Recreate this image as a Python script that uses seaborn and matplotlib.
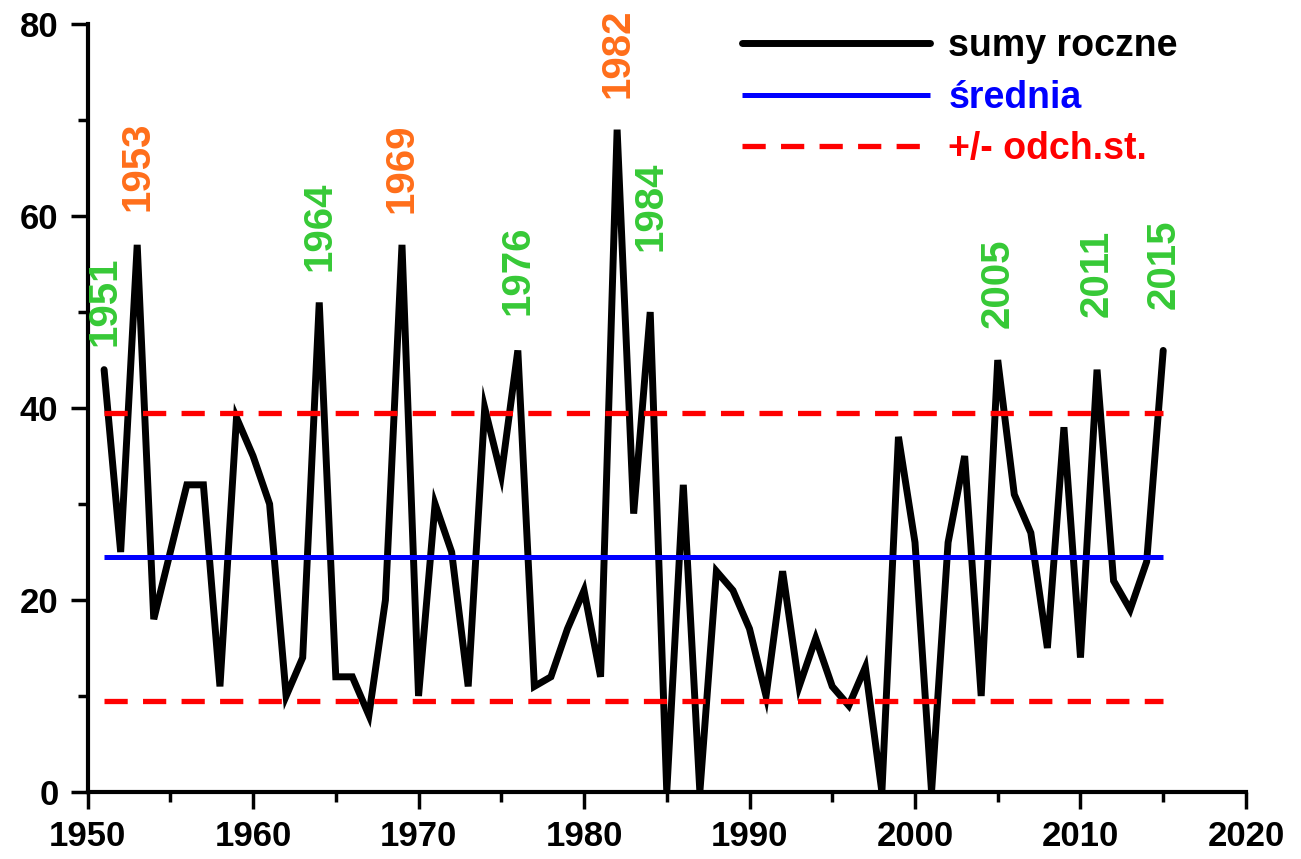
import numpy as np
import pandas as pd
import matplotlib
matplotlib.use("Agg")
import matplotlib.pyplot as plt
import seaborn as sns

# ---- data ----
years = list(range(1951, 2016))
sumy_roczne = [44, 25, 57, 18, 25, 32, 32, 11, 39, 35,
               30, 10, 14, 51, 12, 12, 8, 20, 57, 10,
               30, 25, 11, 40, 33, 46, 11, 12, 17, 21,
               12, 69, 29, 50, 0, 32, 0, 23, 21, 17,
               10, 23, 11, 16, 11, 9, 13, 0, 37, 26,
               0, 26, 35, 10, 45, 31, 27, 15, 38, 14,
               44, 22, 19, 24, 46]
srednia = 24.5
odch_st = 15.0

label_years = [1951, 1953, 1964, 1969, 1976, 1982, 1984, 2005, 2011, 2015]
label_kinds = ["g", "o", "g", "o", "g", "o", "g", "g", "g", "g"]

legend_labels = ["sumy roczne", "średnia", "+/- odch.st."]
x_ticks = [1950, 1960, 1970, 1980, 1990, 2000, 2010, 2020]
y_ticks = [0, 20, 40, 60, 80]

# ---- style ----
sns.set_style("ticks")
plt.rcParams['font.family'] = ['Liberation Sans', 'DejaVu Sans']
plt.rcParams['font.weight'] = 'bold'
plt.rcParams['text.color'] = 'black'
plt.rcParams['axes.edgecolor'] = 'black'
plt.rcParams['xtick.color'] = 'black'
plt.rcParams['ytick.color'] = 'black'
plt.rcParams['xtick.labelcolor'] = 'black'
plt.rcParams['ytick.labelcolor'] = 'black'

ORANGE = "#FF6E1A"
GREEN = "#36C936"

df = pd.DataFrame({"rok": years, "suma": sumy_roczne})

fig = plt.figure(figsize=(13.01, 8.59), dpi=100)
ax = fig.add_axes([0.0673, 0.078, 0.8904, 0.894])

sns.lineplot(data=df, x="rok", y="suma", ax=ax, color="black", lw=5.0,
             label=legend_labels[0], solid_joinstyle="miter")
ax.hlines(srednia, years[0], years[-1], color="#0000FF", lw=3.6,
          label=legend_labels[1])
ax.hlines([srednia + odch_st, srednia - odch_st], years[0], years[-1],
          color="#FF0000", lw=3.8, linestyles=(0, (4.4, 2.9)),
          label=legend_labels[2])

# year annotations
vals = dict(zip(years, sumy_roczne))
extra = {1951: 0.0, 1984: 3.9, 2011: 3.0, 2015: 1.8, 1976: 1.2, 1953: 1.0}
for yr, k in zip(label_years, label_kinds):
    ax.text(yr, vals[yr] + 2.5 + extra.get(yr, 0.8), str(yr), rotation=90,
            ha="center", va="bottom", fontsize=29, fontweight="bold",
            color=ORANGE if k == "o" else GREEN)

ax.set_xlim(1950, 2020)
ax.set_ylim(0, 80)
ax.set_xticks(x_ticks)
ax.set_yticks(y_ticks)
ax.set_xticks(np.arange(1955, 2020, 10), minor=True)
ax.set_yticks(np.arange(10, 80, 20), minor=True)
ax.set_xlabel("")
ax.set_ylabel("")
ax.tick_params(axis="both", which="major", length=12, width=2.5,
               labelsize=25, direction="out", pad=9, colors="black")
ax.tick_params(axis="x", which="major", pad=8)
ax.tick_params(axis="both", which="minor", length=7, width=2.5,
               direction="out", colors="black")
for lab in ax.get_xticklabels() + ax.get_yticklabels():
    lab.set_fontweight("bold")
sns.despine(ax=ax)
for s in ("left", "bottom"):
    ax.spines[s].set_linewidth(3)
    ax.spines[s].set_color("black")

leg = ax.legend(loc="upper left", bbox_to_anchor=(0.565, 0.995), frameon=False,
                fontsize=27, handlelength=5.0, handletextpad=0.5,
                labelspacing=0.42, borderpad=0, borderaxespad=0)
for txt, c in zip(leg.get_texts(), ["black", "#0000FF", "#FF0000"]):
    txt.set_color(c)
    txt.set_fontweight("bold")

fig.savefig("out.png", dpi=100)
